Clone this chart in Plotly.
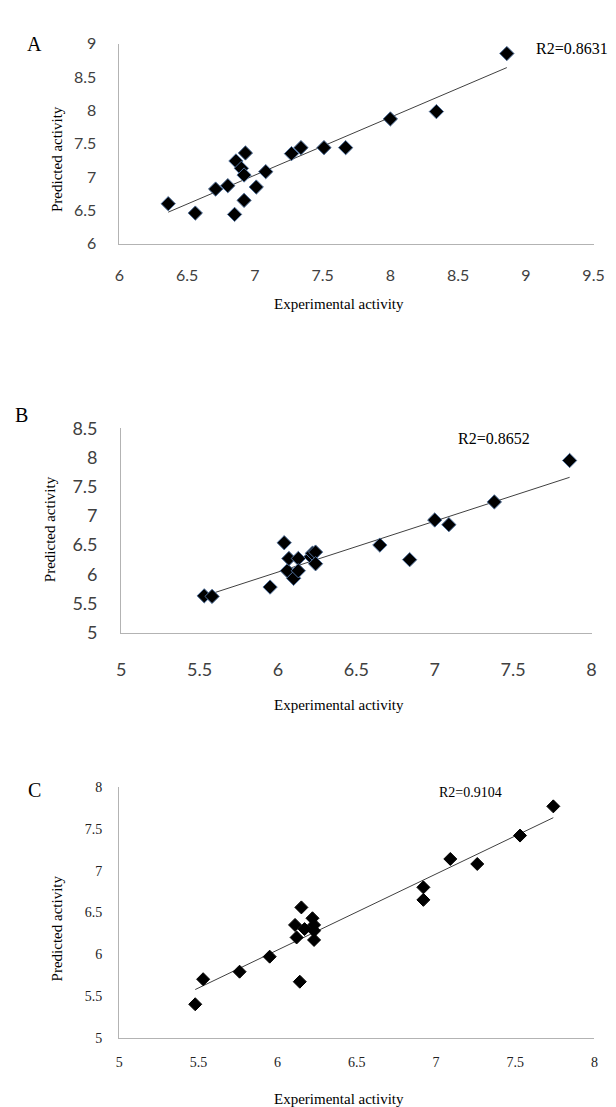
import numpy as np
import plotly.graph_objects as go

W, H = 616, 1107

# Panel A data
exp_A = [6.36, 6.56, 6.71, 6.80, 6.85, 6.86, 6.90, 6.92, 6.93, 6.92, 7.01, 7.08, 7.27, 7.34, 7.51, 7.67, 8.00, 8.34, 8.86]
pred_A = [6.60, 6.46, 6.82, 6.87, 6.44, 7.24, 7.13, 7.03, 7.36, 6.65, 6.85, 7.08, 7.35, 7.44, 7.44, 7.44, 7.87, 7.98, 8.85]
# Panel B data
exp_B = [5.53, 5.58, 5.95, 6.04, 6.06, 6.07, 6.10, 6.13, 6.13, 6.21, 6.22, 6.24, 6.24, 6.65, 6.84, 7.00, 7.09, 7.38, 7.86]
pred_B = [5.63, 5.62, 5.78, 6.54, 6.06, 6.27, 5.93, 6.27, 6.06, 6.30, 6.36, 6.38, 6.18, 6.50, 6.25, 6.93, 6.85, 7.24, 7.95]
# Panel C data
exp_C = [5.48, 5.53, 5.76, 5.95, 6.11, 6.12, 6.14, 6.15, 6.17, 6.22, 6.23, 6.23, 6.23, 6.92, 6.92, 7.09, 7.26, 7.53, 7.74]
pred_C = [5.40, 5.70, 5.79, 5.97, 6.35, 6.20, 5.67, 6.56, 6.30, 6.43, 6.35, 6.28, 6.17, 6.80, 6.65, 7.14, 7.08, 7.42, 7.77]

r2_labels = ["R2=0.8631", "R2=0.8652", "R2=0.9104"]
panel_letters = ["A", "B", "C"]
x_title = "Experimental activity"
y_title = "Predicted activity"


def px(x):
    return x / W


def py(y):
    return 1 - y / H


fig = go.Figure()

panels = [
    dict(x=exp_A, y=pred_A, xa="x", ya="y", mline="#4f6f9a", msize=11),
    dict(x=exp_B, y=pred_B, xa="x2", ya="y2", mline="#4f6f9a", msize=11),
    dict(x=exp_C, y=pred_C, xa="x3", ya="y3", mline="#000000", msize=10),
]

for p in panels:
    xs = np.array(p["x"])
    ys = np.array(p["y"])
    k, b = np.polyfit(xs, ys, 1)
    lx = np.array([xs.min(), xs.max()])
    fig.add_trace(go.Scatter(x=lx, y=k * lx + b, mode="lines",
                             line=dict(color="#404040", width=1),
                             xaxis=p["xa"], yaxis=p["ya"], showlegend=False,
                             hoverinfo="skip"))
    fig.add_trace(go.Scatter(x=xs, y=ys, mode="markers",
                             marker=dict(symbol="diamond", size=p["msize"], color="#000000",
                                         line=dict(color=p["mline"], width=1)),
                             xaxis=p["xa"], yaxis=p["ya"], showlegend=False))

sans = "Lato"
serif = "Liberation Serif"
axcol = "#b3b3b3"


def xax(dom, rng, dtick, font, standoff):
    return dict(domain=dom, range=rng, dtick=dtick, tick0=rng[0], showgrid=False, zeroline=False,
                showline=True, linecolor=axcol, linewidth=1, ticks="",
                tickfont=font, ticklabelstandoff=standoff, fixedrange=True)


def yax(dom, rng, dtick, font, standoff, anchor):
    return dict(domain=dom, range=rng, dtick=dtick, tick0=rng[0], showgrid=False, zeroline=False,
                showline=True, linecolor=axcol, linewidth=1, ticks="",
                tickfont=font, ticklabelstandoff=standoff, anchor=anchor, fixedrange=True)


fA = dict(family=sans, size=16, color="#404040")
fB = dict(family=sans, size=18, color="#404040")
fC = dict(family=serif, size=14, color="#222222")

fig.update_layout(
    width=W, height=H, margin=dict(l=0, r=0, t=0, b=0),
    paper_bgcolor="white", plot_bgcolor="white",
    xaxis=xax([px(109.3), px(596)], [6, 9.5], 0.5, fA, 17) | dict(anchor="y"),
    yaxis=yax([py(228.3), py(24)], [6, 9], 0.5, fA, 19, "x"),
    xaxis2=xax([px(111), px(594)], [5, 8], 0.5, fB, 21) | dict(anchor="y2"),
    yaxis2=yax([py(625), py(416.7)], [5, 8.5], 0.5, fB, 19, "x2"),
    xaxis3=xax([px(109), px(597)], [5, 8], 0.5, fC, 12) | dict(anchor="y3"),
    yaxis3=yax([py(1038.3), py(782.7)], [5, 8], 0.5, fC, 13, "x3"),
)

ann = []
tfont = dict(family=serif, size=15, color="#000000")
for yx, xcen in [(290, 335), (699, 335), (1101, 335)]:
    ann.append(dict(x=px(xcen), y=py(yx), xref="paper", yref="paper", text=x_title,
                    showarrow=False, font=tfont, xanchor="center", yanchor="middle"))
for ycen, xcen in [(142, 45), (520, 37.5), (927, 45)]:
    ann.append(dict(x=px(xcen), y=py(ycen), xref="paper", yref="paper", text=y_title,
                    showarrow=False, font=tfont, textangle=-90, xanchor="center", yanchor="middle"))
for (xc, yc), t in zip([(21.7, 24), (8.5, 403.5), (22, 786)], panel_letters):
    ann.append(dict(x=px(xc), y=py(yc), xref="paper", yref="paper", text=t,
                    showarrow=False, font=dict(family=serif, size=20, color="#000000"),
                    xanchor="center", yanchor="middle"))
r2pos = [(535, 29, "left", 16), (494, 427, "center", 16), (470, 788, "center", 14)]
for (xc, yc, anc, fs), t in zip(r2pos, r2_labels):
    ann.append(dict(x=px(xc), y=py(yc), xref="paper", yref="paper", text=t,
                    showarrow=False, font=dict(family=serif, size=fs, color="#000000"),
                    xanchor=anc, yanchor="middle"))
fig.update_layout(annotations=ann)

fig.write_html("out.html")
